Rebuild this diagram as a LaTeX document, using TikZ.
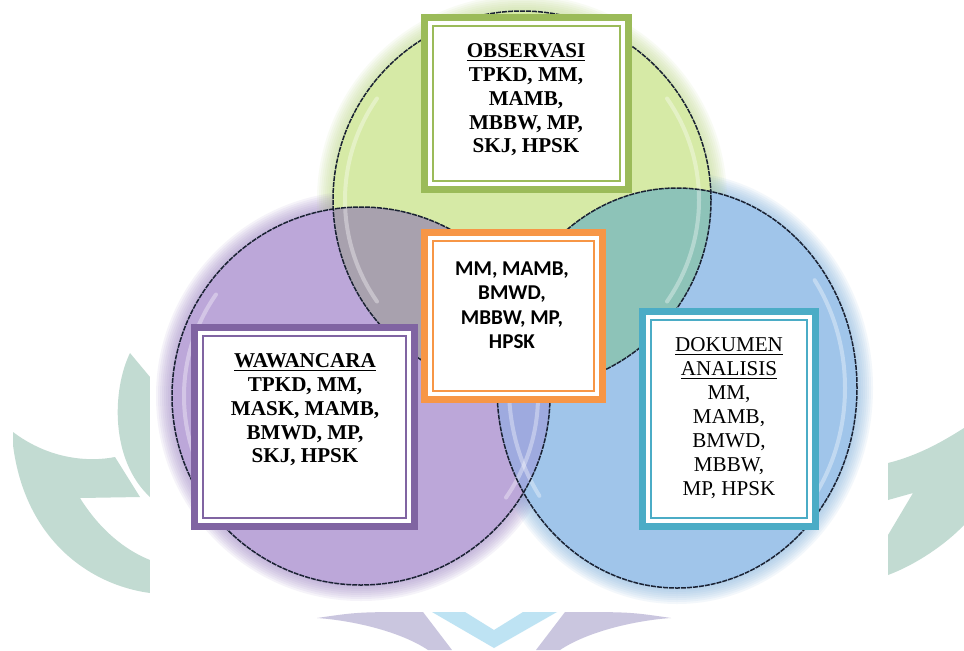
\documentclass[tikz,border=0pt]{standalone}
\usepackage{fontspec}
\setmainfont{Liberation Serif}
\newfontfamily\carlito{Carlito}

\definecolor{hijauTua}{HTML}{9BBB59}
\definecolor{oranye}{HTML}{F79646}
\definecolor{unguTua}{HTML}{8064A2}
\definecolor{biruTua}{HTML}{4BACC6}
\definecolor{hijauMuda}{HTML}{D6EAA6}
\definecolor{hijauTepi}{HTML}{BCD886}
\definecolor{unguMuda}{HTML}{BCA7D9}
\definecolor{unguTepi}{HTML}{9A80C2}
\definecolor{biruMuda}{HTML}{A0C5EA}
\definecolor{biruTepi}{HTML}{7DB0DC}
\definecolor{irisanGP}{HTML}{A8A1AE}
\definecolor{irisanGB}{HTML}{8DC3B8}
\definecolor{irisanPB}{HTML}{9EAADF}
\definecolor{irisanTiga}{HTML}{98A4B4}
\definecolor{garisLingkar}{HTML}{1A2233}
\definecolor{logoHijau}{HTML}{C2DBD2}
\definecolor{logoUngu}{HTML}{CAC6DF}
\definecolor{logoBiru}{HTML}{BEE3F3}

\pgfdeclareradialshading{bolaHijau}{\pgfpoint{0bp}{0bp}}{color(0bp)=(hijauMuda); color(40bp)=(hijauMuda); color(50bp)=(hijauTepi)}
\pgfdeclareradialshading{bolaUngu}{\pgfpoint{0bp}{0bp}}{color(0bp)=(unguMuda); color(40bp)=(unguMuda); color(50bp)=(unguTepi)}
\pgfdeclareradialshading{bolaBiru}{\pgfpoint{0bp}{0bp}}{color(0bp)=(biruMuda); color(40bp)=(biruMuda); color(50bp)=(biruTepi)}

\tikzset{
  lingkar/.style={draw=garisLingkar, line width=0.3mm, dash pattern=on 1mm off 0.2mm},
  kilap/.style={white, opacity=0.35, line width=0.8mm, line cap=round},
  pita/.style={draw=#1, line width=1.46mm},
  garis/.style={draw=#1, line width=0.46mm},
  teks/.style={anchor=north, align=center, inner sep=0pt, font=\fontsize{12}{13.6}\selectfont\bfseries}
}

% framed box: colour, x1, y1, x2, y2
\newcommand{\kotak}[5]{%
  \fill[white] (#2,#3) rectangle (#4,#5);
  \draw[pita=#1] ({#2+3.65},{#3+3.65}) rectangle ({#4-3.65},{#5-3.65});
  \draw[garis=#1] ({#2+11.8},{#3+11.8}) rectangle ({#4-11.8},{#5-11.8});
}

\begin{document}
\begin{tikzpicture}[x=0.2mm, y=-0.2mm]
\useasboundingbox (0,0) rectangle (964,650);
\fill[white] (0,0) rectangle (964,650);

% Logo in the background
\fill[logoHijau] (130,353) .. controls (112,390) and (110,460) .. (150,497) -- (150,377) -- cycle;
\fill[logoHijau] (13,432) .. controls (50,460) and (90,462) .. (115,457) -- (140,497) -- (80,498)
  .. controls (100,530) and (125,550) .. (150,560) -- (150,593)
  .. controls (90,585) and (25,540) .. (13,445) -- cycle;
\fill[logoHijau] (888,463) .. controls (920,455) and (945,440) .. (964,428) -- (964,525)
  .. controls (945,545) and (915,565) .. (888,575) -- (888,535) -- (913,493) -- (888,500) -- cycle;
\fill[logoUngu] (317,618) .. controls (358,612) .. (423,612) -- (452,650) -- (428,650)
  .. controls (398,630) and (348,620) .. (317,618) -- cycle;
\fill[logoUngu] (671,618) .. controls (630,612) .. (565,612) -- (536,650) -- (560,650)
  .. controls (590,630) and (640,620) .. (671,618) -- cycle;
\fill[logoBiru] (432,612) -- (465,612) -- (494,630) -- (523,612) -- (557,612) -- (494,648) -- cycle;
\fill[white] (150,0) rectangle (888,612);

% Centres
\coordinate (pusatG) at (522,200);
\coordinate (pusatP) at (361,396);
\coordinate (pusatB) at (677,388);

% Glow
\foreach \k in {1,...,8}{
  \fill[hijauTepi, opacity=0.09] (pusatG) circle [radius=37.8mm+\k*0.4mm];
  \fill[unguTepi, opacity=0.09] (pusatP) circle [radius=37.8mm+\k*0.4mm];
  \fill[biruTepi, opacity=0.09] (pusatB) ellipse [x radius=36mm+\k*0.4mm, y radius=40mm+\k*0.4mm];
}

% Circles
\shade[shading=bolaHijau] (pusatG) circle [radius=37.8mm];
\shade[shading=bolaUngu] (pusatP) circle [radius=37.8mm];
\shade[shading=bolaBiru] (pusatB) ellipse [x radius=36mm, y radius=40mm];

% Overlaps
\begin{scope}
  \clip (pusatG) circle [radius=37.8mm];
  \fill[irisanGP] (pusatP) circle [radius=37.8mm];
  \fill[irisanGB] (pusatB) ellipse [x radius=36mm, y radius=40mm];
\end{scope}
\begin{scope}
  \clip (pusatP) circle [radius=37.8mm];
  \fill[irisanPB] (pusatB) ellipse [x radius=36mm, y radius=40mm];
  \clip (pusatG) circle [radius=37.8mm];
  \fill[irisanTiga] (pusatB) ellipse [x radius=36mm, y radius=40mm];
\end{scope}

% Highlights
\foreach \pusat in {pusatG, pusatP}{
  \draw[kilap] ([shift={(145:35.4mm)}]\pusat) arc [start angle=145, end angle=215, radius=35.4mm];
  \draw[kilap] ([shift={(-35:35.4mm)}]\pusat) arc [start angle=-35, end angle=35, radius=35.4mm];
}
\draw[kilap] ([shift={(145:33.6mm and 37.6mm)}]pusatB) arc [start angle=145, end angle=215, x radius=33.6mm, y radius=37.6mm];
\draw[kilap] ([shift={(-35:33.6mm and 37.6mm)}]pusatB) arc [start angle=-35, end angle=35, x radius=33.6mm, y radius=37.6mm];

% Outlines
\draw[lingkar] (pusatG) circle [radius=37.8mm];
\draw[lingkar] (pusatP) circle [radius=37.8mm];
\draw[lingkar] (pusatB) ellipse [x radius=36mm, y radius=40mm];

% Boxes
\kotak{hijauTua}{421}{14}{632}{193}
\kotak{oranye}{421}{229}{606}{403}
\kotak{unguTua}{191}{324}{418}{530}
\kotak{biruTua}{639}{308}{819}{530}

% Texts
\node[teks] (observasi) at (526,43) {\underline{OBSERVASI}\\TPKD, MM,\\MAMB,\\MBBW, MP,\\SKJ, HPSK};
\node[teks, font=\fontsize{12}{14}\selectfont\carlito\bfseries] (irisan) at (512,261) {MM, MAMB,\\BMWD,\\MBBW, MP,\\HPSK};
\node[teks] (wawancara) at (305,353) {\underline{WAWANCARA}\\TPKD, MM,\\MASK, MAMB,\\BMWD, MP,\\SKJ, HPSK};
\node[teks, font=\fontsize{12}{13.7}\selectfont] (dokumen) at (729,337) {\underline{DOKUMEN}\\\underline{ANALISIS}\\MM,\\MAMB,\\BMWD,\\MBBW,\\MP, HPSK};

\end{tikzpicture}
\end{document}
